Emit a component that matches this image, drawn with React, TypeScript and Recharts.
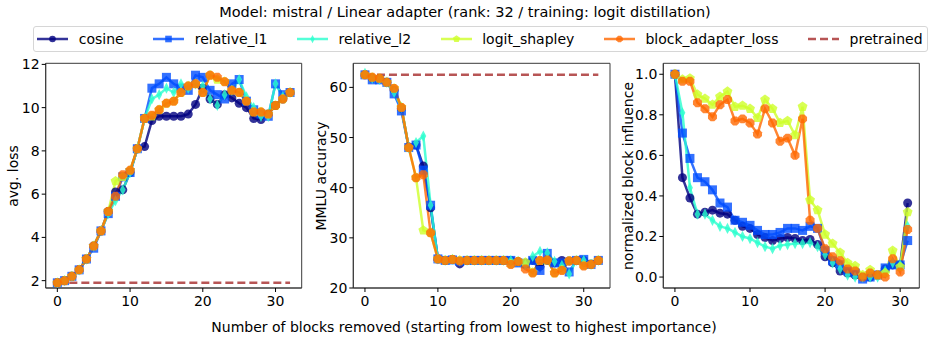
import React from "react"
import {
  LineChart,
  Line,
  XAxis,
  YAxis,
  ReferenceArea
} from "recharts"

// x positions (number of blocks removed)
const BLOCKS = [0, 1, 2, 3, 4, 5, 6, 7, 8, 9, 10, 11, 12, 13, 14, 15, 16, 17, 18, 19, 20, 21, 22, 23, 24, 25, 26, 27, 28, 29, 30, 31, 32]
const BLOCKS_INFLUENCE = [0, 1, 2, 3, 4, 5, 6, 7, 8, 9, 10, 11, 12, 13, 14, 15, 16, 17, 18, 19, 20, 21, 22, 23, 24, 25, 26, 27, 28, 29, 30, 31]

// avg. loss
const LOSS_COSINE = [1.9, 2.0, 2.2, 2.5, 3.0, 3.6, 4.3, 5.2, 6.1, 6.2, 7.0, 8.1, 8.2, 9.4, 9.6, 9.6, 9.6, 9.6, 9.7, 10.15, 10.9, 10.4, 10.15, 10.6, 10.45, 10.2, 10.0, 9.5, 9.45, 9.7, 10.1, 10.4, 10.7]
const LOSS_L1 = [1.9, 2.0, 2.2, 2.5, 3.0, 3.5, 4.3, 5.1, 5.9, 6.8, 7.0, 8.1, 9.5, 10.9, 11.1, 11.4, 11.1, 10.9, 10.8, 11.5, 11.4, 10.8, 10.6, 10.4, 11.1, 11.3, 10.3, 9.9, 9.7, 9.6, 11.1, 10.6, 10.7]
const LOSS_L2 = [1.9, 2.0, 2.2, 2.5, 3.0, 3.6, 4.3, 5.1, 5.7, 6.2, 7.0, 8.1, 9.5, 10.4, 10.6, 10.9, 10.7, 11.1, 10.9, 11.1, 11.0, 10.4, 10.1, 10.6, 10.8, 11.3, 10.5, 10.0, 9.6, 9.6, 11.1, 10.5, 10.7]
const LOSS_SHAPLEY = [1.9, 2.0, 2.2, 2.5, 3.0, 3.6, 4.3, 5.2, 6.6, 6.8, 7.1, 8.1, 9.5, 9.6, 9.9, 10.2, 10.3, 10.7, 11.0, 11.1, 10.7, 11.5, 11.3, 11.2, 10.8, 10.7, 10.3, 9.8, 9.8, 9.7, 10.1, 10.4, 10.7]
const LOSS_BLOCK = [1.9, 2.0, 2.2, 2.5, 3.0, 3.6, 4.3, 5.2, 5.9, 6.9, 7.1, 8.1, 9.5, 9.65, 9.9, 10.2, 10.3, 10.7, 11.0, 11.1, 10.7, 11.5, 11.4, 11.2, 10.8, 10.7, 10.3, 9.8, 9.8, 9.7, 10.1, 10.4, 10.7]
const LOSS_PRETRAINED = 1.9

// MMLU accuracy
const MMLU_COSINE = [62.5, 61.8, 61.7, 61.0, 59.5, 55.8, 48.1, 48.5, 44.3, 36.0, 25.8, 25.5, 25.7, 24.8, 25.5, 25.5, 25.5, 25.5, 25.5, 25.5, 25.5, 25.2, 25.0, 25.5, 24.3, 25.5, 25.0, 25.5, 25.4, 25.5, 25.5, 24.8, 25.5]
const MMLU_L1 = [62.5, 61.5, 61.5, 61.0, 58.7, 55.3, 48.0, 48.5, 43.5, 36.5, 25.8, 25.5, 25.6, 25.3, 25.5, 25.5, 25.5, 25.5, 25.5, 25.5, 25.5, 25.0, 24.8, 25.5, 23.5, 26.9, 25.0, 25.0, 23.2, 25.5, 25.7, 24.7, 25.5]
const MMLU_L2 = [62.8, 61.8, 61.6, 61.0, 59.0, 56.0, 48.0, 49.0, 50.3, 36.5, 25.8, 25.5, 25.7, 25.4, 25.5, 25.5, 25.5, 25.5, 25.5, 25.5, 25.5, 25.3, 24.6, 26.3, 27.3, 27.0, 25.3, 24.5, 22.8, 25.5, 25.5, 24.7, 25.5]
const MMLU_SHAPLEY = [62.5, 62.0, 61.8, 61.0, 59.8, 56.0, 48.0, 42.0, 31.5, 31.0, 25.8, 25.5, 25.7, 25.5, 25.5, 25.5, 25.5, 25.5, 25.5, 25.5, 24.8, 25.3, 25.1, 23.1, 25.4, 25.5, 23.0, 23.6, 25.4, 25.5, 24.5, 24.7, 25.5]
const MMLU_BLOCK = [62.5, 62.0, 61.8, 61.0, 59.8, 56.0, 48.0, 42.0, 42.6, 31.0, 25.8, 25.5, 25.7, 25.4, 25.5, 25.5, 25.5, 25.5, 25.5, 25.5, 24.7, 25.3, 23.8, 23.0, 25.5, 25.6, 23.0, 23.5, 25.4, 25.5, 24.4, 24.7, 25.5]
const MMLU_PRETRAINED = 62.5

// normalized block influence
const INFL_COSINE = [1.0, 0.49, 0.39, 0.31, 0.32, 0.33, 0.315, 0.31, 0.28, 0.25, 0.24, 0.21, 0.195, 0.18, 0.19, 0.195, 0.19, 0.18, 0.185, 0.16, 0.10, 0.07, 0.03, 0.02, 0.01, 0.0, 0.0, 0.01, 0.04, 0.06, 0.06, 0.365]
const INFL_L1 = [1.0, 0.71, 0.585, 0.49, 0.47, 0.43, 0.365, 0.345, 0.28, 0.27, 0.255, 0.23, 0.21, 0.21, 0.22, 0.24, 0.24, 0.23, 0.25, 0.24, 0.13, 0.08, 0.06, 0.03, 0.02, -0.01, 0.0, 0.01, 0.045, 0.06, 0.06, 0.18]
const INFL_L2 = [1.0, 0.81, 0.44, 0.31, 0.31, 0.28, 0.25, 0.24, 0.22, 0.2, 0.19, 0.17, 0.15, 0.14, 0.155, 0.16, 0.165, 0.165, 0.17, 0.15, 0.11, 0.07, 0.04, 0.01, 0.0, 0.0, 0.0, 0.0, 0.03, 0.07, 0.06, 0.25]
const INFL_SHAPLEY = [1.0, 0.975, 0.98, 0.9, 0.88, 0.85, 0.89, 0.915, 0.84, 0.845, 0.83, 0.785, 0.875, 0.83, 0.76, 0.77, 0.70, 0.84, 0.38, 0.33, 0.21, 0.165, 0.12, 0.07, 0.055, 0.01, 0.035, 0.01, 0.02, 0.13, 0.05, 0.32]
const INFL_BLOCK = [1.0, 0.965, 0.965, 0.86, 0.83, 0.79, 0.85, 0.875, 0.77, 0.78, 0.76, 0.705, 0.83, 0.76, 0.67, 0.685, 0.60, 0.78, 0.28, 0.24, 0.14, 0.10, 0.08, 0.04, 0.03, 0.0, 0.02, 0.01, 0.0, 0.09, 0.025, 0.235]

const SERIES = [
  { key: "cosine", color: "#00007f", shape: "circle" },
  { key: "relative_l1", color: "#004dff", shape: "square" },
  { key: "relative_l2", color: "#29ffce", shape: "diamond" },
  { key: "logit_shapley", color: "#ceff29", shape: "pentagon" },
  { key: "block_adapter_loss", color: "#ff6800", shape: "octagon" }
]
const PRETRAINED_COLOR = "#a52a2a"

const FONT = "'DejaVu Sans', sans-serif"

function polygon(cx: number, cy: number, r: number, n: number, rot: number) {
  const pts: string[] = []
  for (let i = 0; i < n; i++) {
    const a = rot + (i * 2 * Math.PI) / n
    pts.push(`${cx + r * Math.cos(a)},${cy + r * Math.sin(a)}`)
  }
  return pts.join(" ")
}

function Marker({ shape, cx, cy, color, s }: any) {
  const common = { fill: color, fillOpacity: 0.8 }
  if (shape === "circle") return <circle cx={cx} cy={cy} r={s} {...common} />
  if (shape === "square") return <rect x={cx - s} y={cy - s} width={2 * s} height={2 * s} {...common} />
  if (shape === "diamond")
    return <polygon points={`${cx},${cy - s * 1.25} ${cx + s * 0.65},${cy} ${cx},${cy + s * 1.25} ${cx - s * 0.65},${cy}`} {...common} />
  if (shape === "pentagon") return <polygon points={polygon(cx, cy, s * 1.15, 5, -Math.PI / 2)} {...common} />
  return <polygon points={polygon(cx, cy, s * 1.08, 8, Math.PI / 8)} {...common} />
}

function dotFor(shape: string, color: string) {
  return (props: any) => {
    const { cx, cy, index } = props
    if (cx == null || cy == null) return <g key={`d-${index}`} />
    return <Marker key={`d-${index}`} shape={shape} cx={cx} cy={cy} color={color} s={4.5} />
  }
}

function buildRows(xs: number[], cols: number[][], pretrained?: number) {
  return xs.map((x, i) => {
    const row: any = { x }
    SERIES.forEach((s, j) => { row[s.key] = cols[j][i] })
    if (pretrained !== undefined) row.pretrained = pretrained
    return row
  })
}

const lossData = buildRows(BLOCKS, [LOSS_COSINE, LOSS_L1, LOSS_L2, LOSS_SHAPLEY, LOSS_BLOCK], LOSS_PRETRAINED)
const mmluData = buildRows(BLOCKS, [MMLU_COSINE, MMLU_L1, MMLU_L2, MMLU_SHAPLEY, MMLU_BLOCK], MMLU_PRETRAINED)
const inflData = buildRows(BLOCKS_INFLUENCE, [INFL_COSINE, INFL_L1, INFL_L2, INFL_SHAPLEY, INFL_BLOCK])

const tickStyle = { fontSize: 14, fill: "#000", fontFamily: FONT }
const AXIS_COLOR = "#3a3a3a"

function Panel({ data, left, width, yAxisWidth, rightMargin, xDomain, yDomain, yTicks, fmt, pretrained }: any) {
  return (
    <div style={{ position: "absolute", left, top: 0 }}>
      <LineChart
        width={width}
        height={341}
        data={data}
        margin={{ top: 63.3, right: rightMargin, bottom: 28, left: 0 }}
      >
        <XAxis
          dataKey="x"
          type="number"
          domain={xDomain}
          ticks={[0, 10, 20, 30]}
          allowDataOverflow
          height={25}
          tickSize={4}
          tickMargin={4}
          tick={tickStyle}
          stroke={AXIS_COLOR}
          tickLine={{ stroke: "#000" }}
        />
        <YAxis
          type="number"
          domain={yDomain}
          ticks={yTicks}
          allowDataOverflow
          width={yAxisWidth}
          tickSize={4}
          tickMargin={2}
          tick={tickStyle}
          tickFormatter={fmt}
          stroke={AXIS_COLOR}
          tickLine={{ stroke: "#000" }}
        />
        {SERIES.map((s) => (
          <Line
            key={s.key}
            dataKey={s.key}
            stroke={s.color}
            strokeOpacity={0.8}
            strokeWidth={2.5}
            dot={dotFor(s.shape, s.color)}
            activeDot={false}
            isAnimationActive={false}
          />
        ))}
        {pretrained && (
          <Line
            dataKey="pretrained"
            stroke={PRETRAINED_COLOR}
            strokeOpacity={0.8}
            strokeWidth={2.5}
            strokeDasharray="8 4"
            dot={false}
            activeDot={false}
            isAnimationActive={false}
          />
        )}
        <ReferenceArea
          x1={xDomain[0]}
          x2={xDomain[1]}
          y1={yDomain[0]}
          y2={yDomain[1]}
          fill="none"
          stroke={AXIS_COLOR}
          strokeWidth={1}
          ifOverflow="visible"
        />
      </LineChart>
    </div>
  )
}

function LegendHandle({ shape, color, dashed }: any) {
  return (
    <svg width={31} height={14} style={{ display: "block" }}>
      <line x1={0} y1={7} x2={31} y2={7} stroke={color} strokeOpacity={0.8} strokeWidth={2.5} strokeDasharray={dashed ? "8 4" : undefined} />
      {!dashed && <Marker shape={shape} cx={15.5} cy={7} color={color} s={3.3} />}
    </svg>
  )
}

function LegendBox() {
  const items = [...SERIES.map((s) => ({ ...s, dashed: false })), { key: "pretrained", color: PRETRAINED_COLOR, shape: "", dashed: true }]
  return (
    <div
      style={{
        position: "absolute",
        left: 32.7,
        top: 26,
        width: 895.6,
        height: 26.3,
        boxSizing: "border-box",
        border: "1px solid #d6d6d6",
        borderRadius: 3,
        display: "flex",
        alignItems: "center",
        paddingLeft: 3.5,
        fontFamily: FONT,
        fontSize: 14
      }}
    >
      {items.map((it, i) => (
        <div key={it.key} style={{ display: "flex", alignItems: "center", marginLeft: i === 0 ? 0 : 29.5 }}>
          <LegendHandle shape={it.shape} color={it.color} dashed={it.dashed} />
          <span style={{ marginLeft: 10.6, whiteSpace: "nowrap" }}>{it.key}</span>
        </div>
      ))}
    </div>
  )
}

function Text({ x, y, size, rotate, children }: any) {
  return (
    <div
      style={{
        position: "absolute",
        left: x,
        top: y,
        transform: `translate(-50%, -50%)${rotate ? " rotate(-90deg)" : ""}`,
        whiteSpace: "nowrap",
        fontFamily: FONT,
        fontSize: size,
        color: "#000",
        lineHeight: 1
      }}
    >
      {children}
    </div>
  )
}

export default function App() {
  return (
    <div style={{ position: "absolute", left: 0, top: 0, width: 934, height: 341, background: "#fff", overflow: "hidden" }}>
      <Text x={465} y={12} size={14.5}>Model: mistral / Linear adapter (rank: 32 / training: logit distillation)</Text>
      <LegendBox />

      <Panel
        data={lossData}
        left={0}
        width={312}
        yAxisWidth={45.7}
        rightMargin={10.3}
        xDomain={[-1.6, 33.6]}
        yDomain={[1.66, 12.05]}
        yTicks={[2, 4, 6, 8, 10, 12]}
        pretrained
      />
      <Panel
        data={mmluData}
        left={310}
        width={310}
        yAxisWidth={43.3}
        rightMargin={10}
        xDomain={[-1.6, 33.6]}
        yDomain={[20, 64.8]}
        yTicks={[20, 30, 40, 50, 60]}
        pretrained
      />
      <Panel
        data={inflData}
        left={620}
        width={314}
        yAxisWidth={43.3}
        rightMargin={14.7}
        xDomain={[-1.55, 32.55]}
        yDomain={[-0.054, 1.054]}
        yTicks={[0, 0.2, 0.4, 0.6, 0.8, 1.0]}
        fmt={(v: number) => v.toFixed(1)}
      />

      <Text x={12.5} y={175.6} size={14} rotate>avg. loss</Text>
      <Text x={321} y={175.6} size={14} rotate>MMLU accuracy</Text>
      <Text x={627.5} y={175.6} size={14} rotate>normalized block influence</Text>
      <Text x={464} y={327} size={14}>Number of blocks removed (starting from lowest to highest importance)</Text>
    </div>
  )
}
